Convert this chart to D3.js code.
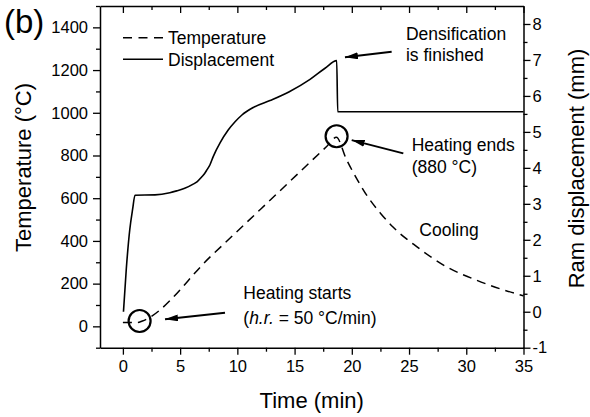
<!DOCTYPE html>
<html>
<head>
<meta charset="utf-8">
<script src="https://cdn.jsdelivr.net/npm/d3@7"></script>
<style>
  html, body { margin: 0; padding: 0; background: #fff; }
  svg { display: block; font-family: Arial, "Liberation Sans", sans-serif; }
</style>
</head>
<body>
<svg id="chart" width="590" height="417"></svg>
<script>
// ---- data ----
const dispTime = [0.05, 0.3, 0.6, 0.85, 1.06, 2.8, 4.1, 4.7, 5.4, 6.1, 6.5, 6.9, 7.2, 7.35, 7.6, 7.9, 8.5, 9.2, 9.8, 10.4, 11.4, 12.85, 14.5, 16.35, 17.66, 18.68, 18.77, 35];
const dispMm   = [0.0, 1.2, 2.28, 2.85, 3.24, 3.25, 3.31, 3.36, 3.43, 3.54, 3.62, 3.75, 3.87, 3.95, 4.08, 4.32, 4.70, 5.05, 5.28, 5.47, 5.68, 5.87, 6.11, 6.46, 6.77, 6.98, 5.56, 5.56];

const tempTime = [0, 1.3, 1.7, 7.7, 12.1, 17.8, 18.65, 19.5, 20.5, 21.4, 22.5, 23.6, 25.7, 28.3, 30.9, 33.0, 35];
const tempC    = [18, 18, 25, 329, 552, 842, 885, 785, 685, 606, 530, 465, 372, 278, 216, 175, 143];

const xTicks = [0, 5, 10, 15, 20, 25, 30, 35];
const xMinor = [2.5, 7.5, 12.5, 17.5, 22.5, 27.5, 32.5];
const yLeftTicks = [0, 200, 400, 600, 800, 1000, 1200, 1400];
const yLeftMinor = [-100, 100, 300, 500, 700, 900, 1100, 1300, 1500];
const yRightTicks = [-1, 0, 1, 2, 3, 4, 5, 6, 7, 8];
const yRightMinor = [-0.5, 0.5, 1.5, 2.5, 3.5, 4.5, 5.5, 6.5, 7.5];

const seriesNames = ["Temperature", "Displacement"];

// annotation markers (data units: time, temperature)
const circleTimes = [1.46, 18.67];
const circleTemps = [25, 890];
const arrowFromT = [23.48, 24.5, 8.92];
const arrowFromC = [1286, 810, 64];
const arrowToT   = [19.4, 19.99, 3.68];
const arrowToC   = [1260, 872, 33];

const noteText = ["Densification", "is finished", "Heating ends", "(880 °C)", "Cooling", "Heating starts"];
const noteT    = [24.73, 24.73, 25.23, 25.23, 25.9, 10.52];
const noteC    = [1343, 1242, 822, 720, 423, 126];

// ---- layout ----
const svg = d3.select("#chart");
const L = 100, R = 523.5, T = 6, B = 347.7;
const x = d3.scaleLinear().domain([-2, 35]).range([L, R]);
const yL = d3.scaleLinear().domain([-100, 1500]).range([B, T]);
const yR = d3.scaleLinear().domain([-1, 8.5]).range([B, T]);

const tickFont = "16.5px";
const MAJ = 7, MIN = 4;

function styleAxis(g) {
  g.select(".domain").attr("stroke", "#000").attr("stroke-width", 1.5);
  g.selectAll(".tick line").attr("stroke", "#000").attr("stroke-width", 1.3);
  g.selectAll(".tick text").attr("fill", "#000").style("font-size", tickFont).style("font-family", "Arial, 'Liberation Sans', sans-serif");
}

// bottom
svg.append("g").attr("transform", `translate(0,${B})`)
  .call(d3.axisBottom(x).tickValues(xTicks).tickSize(MAJ).tickPadding(6).tickSizeOuter(0))
  .call(styleAxis);
svg.append("g").attr("transform", `translate(0,${B})`)
  .call(d3.axisBottom(x).tickValues(xMinor).tickSize(MIN).tickFormat("").tickSizeOuter(0))
  .call(styleAxis).select(".domain").remove();
// top (inward)
svg.append("g").attr("transform", `translate(0,${T})`)
  .call(d3.axisBottom(x).tickValues(xTicks).tickSize(MAJ).tickFormat("").tickSizeOuter(0))
  .call(styleAxis);
svg.append("g").attr("transform", `translate(0,${T})`)
  .call(d3.axisBottom(x).tickValues(xMinor).tickSize(MIN).tickFormat("").tickSizeOuter(0))
  .call(styleAxis).select(".domain").remove();
// left
svg.append("g").attr("transform", `translate(${L},0)`)
  .call(d3.axisLeft(yL).tickValues(yLeftTicks).tickSize(MAJ).tickPadding(5)
        .tickFormat(d3.format("d")).tickSizeOuter(0))
  .call(styleAxis);
svg.append("g").attr("transform", `translate(${L},0)`)
  .call(d3.axisLeft(yL).tickValues(yLeftMinor).tickSize(MIN).tickFormat("").tickSizeOuter(0))
  .call(styleAxis).select(".domain").remove();
// right
svg.append("g").attr("transform", `translate(${R},0)`)
  .call(d3.axisRight(yR).tickValues(yRightTicks).tickSize(MAJ).tickPadding(2)
        .tickFormat(d => d < 0 ? "-" + Math.abs(d) : String(d)).tickSizeOuter(0))
  .call(styleAxis);
svg.append("g").attr("transform", `translate(${R},0)`)
  .call(d3.axisRight(yR).tickValues(yRightMinor).tickSize(MIN).tickFormat("").tickSizeOuter(0))
  .call(styleAxis).select(".domain").remove();

// axis titles
svg.append("text").attr("x", (L + R) / 2).attr("y", 408).attr("text-anchor", "middle")
  .style("font-size", "22px").text("Time (min)");
svg.append("text").attr("transform", "translate(31,167.5) rotate(-90)").attr("text-anchor", "middle")
  .style("font-size", "22px").text("Temperature (°C)");
svg.append("text").attr("transform", "translate(584,168.5) rotate(-90)").attr("text-anchor", "middle")
  .style("font-size", "22px").text("Ram displacement (mm)");
svg.append("text").attr("x", 4).attr("y", 33).style("font-size", "33px").text("(b)");

// lines
const dispData = dispTime.map((t, i) => [t, dispMm[i]]);
const tempData = tempTime.map((t, i) => [t, tempC[i]]);

svg.append("path").datum(dispData)
  .attr("fill", "none").attr("stroke", "#000").attr("stroke-width", 1.6)
  .attr("d", d3.line().x(d => x(d[0])).y(d => yR(d[1])).curve(d3.curveMonotoneX));

svg.append("path").datum(tempData)
  .attr("fill", "none").attr("stroke", "#000").attr("stroke-width", 1.5)
  .attr("stroke-dasharray", "9,6")
  .attr("d", d3.line().x(d => x(d[0])).y(d => yL(d[1])).curve(d3.curveMonotoneX));

// circles
svg.selectAll("circle.mark").data(circleTimes).join("circle").attr("class", "mark")
  .attr("cx", (d) => x(d)).attr("cy", (d, i) => yL(circleTemps[i])).attr("r", 11)
  .attr("fill", "none").attr("stroke", "#000").attr("stroke-width", 2.2);

// arrows
svg.append("defs").append("marker").attr("id", "ah")
  .attr("viewBox", "0 0 13 7").attr("refX", 13).attr("refY", 3.5)
  .attr("markerWidth", 13).attr("markerHeight", 7).attr("markerUnits", "userSpaceOnUse")
  .attr("orient", "auto")
  .append("path").attr("d", "M0,0 L13,3.5 L0,7 Z").attr("fill", "#000");
svg.selectAll("line.arrow").data(arrowFromT).join("line").attr("class", "arrow")
  .attr("x1", d => x(d)).attr("y1", (d, i) => yL(arrowFromC[i]))
  .attr("x2", (d, i) => x(arrowToT[i])).attr("y2", (d, i) => yL(arrowToC[i]))
  .attr("stroke", "#000").attr("stroke-width", 2).attr("marker-end", "url(#ah)");

// annotation texts
svg.selectAll("text.note").data(noteText).join("text").attr("class", "note")
  .attr("x", (d, i) => x(noteT[i])).attr("y", (d, i) => yL(noteC[i]))
  .style("font-size", "17.5px").text(d => d);
const hr = svg.append("text").attr("x", x(10.52)).attr("y", yL(11)).style("font-size", "17.5px");
hr.append("tspan").text("(");
hr.append("tspan").style("font-style", "italic").text("h.r.");
hr.append("tspan").text(" = 50 °C/min)");

// legend
const lg = svg.append("g");
lg.append("line").attr("x1", 123).attr("x2", 163).attr("y1", 37.7).attr("y2", 37.7)
  .attr("stroke", "#000").attr("stroke-width", 1.5).attr("stroke-dasharray", "9,6.5");
lg.append("line").attr("x1", 123).attr("x2", 163).attr("y1", 59.3).attr("y2", 59.3)
  .attr("stroke", "#000").attr("stroke-width", 1.6);
lg.append("text").attr("x", 168).attr("y", 44).style("font-size", "17.5px").text(seriesNames[0]);
lg.append("text").attr("x", 168).attr("y", 65.5).style("font-size", "17.5px").text(seriesNames[1]);
</script>
</body>
</html>
